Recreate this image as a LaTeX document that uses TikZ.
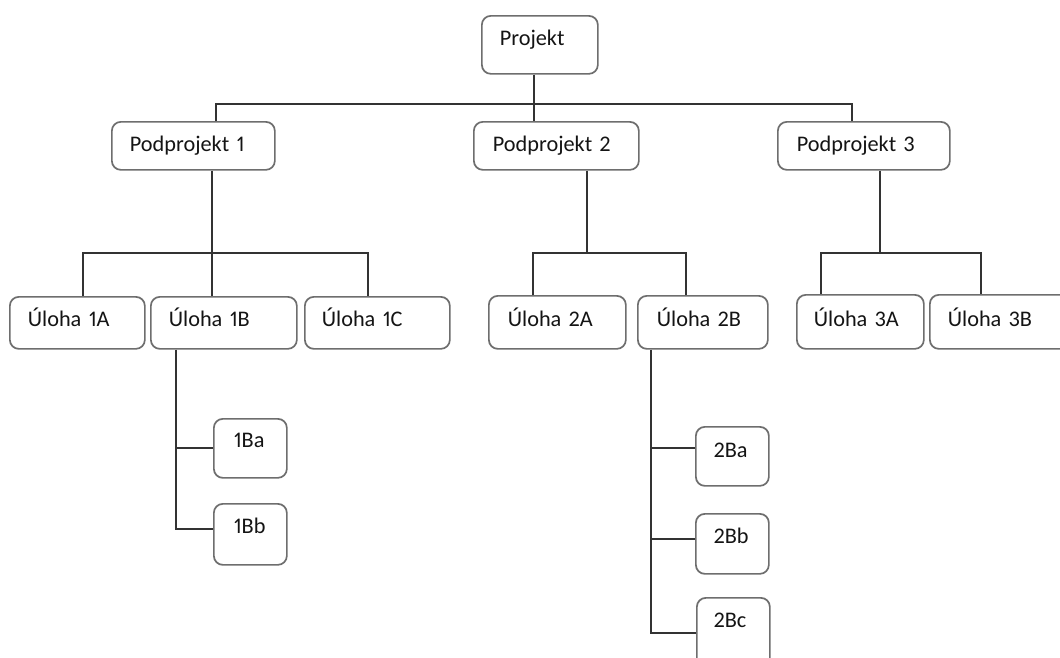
\documentclass[tikz,border=0pt]{standalone}
\usepackage{fontspec}
\setmainfont{Carlito}[Numbers=Proportional, WordSpace=0.45]
\definecolor{boxgray}{HTML}{6E6E6E}
\definecolor{linegray}{HTML}{333333}
\definecolor{txt}{HTML}{141414}
% box: name, left, top, right, bottom, baseline, text start, text
\newcommand\wbsnode[8]{%
  \pgfmathsetmacro\wpad{#7-#2}%
  \pgfmathsetmacro\wtw{#4-#2-2*(#7-#2)}%
  \pgfmathsetmacro\wth{#6-#3}%
  \pgfmathsetmacro\wtd{#5-#6}%
  \node[wbsbox, inner xsep=\wpad pt, text width=\wtw pt,
        text height=\wth pt, text depth=\wtd pt] (#1) at (#2,#3) {#8};}
\begin{document}
\begin{tikzpicture}[x=1pt, y=-1pt,
  wbsbox/.style={draw=boxgray, line width=1.7pt, rounded corners=9pt,
    fill=white, anchor=north west, inner ysep=0pt, align=left, text=txt,
    font=\fontsize{22.3}{24}\selectfont},
  conn/.style={draw=linegray, line width=1.4pt}]
\useasboundingbox (0,0) rectangle (1060,657);
\fill[white] (0,0) rectangle (1060,657);
\clip (0,0) rectangle (1060,657);

% level 0 and 1
\wbsnode{proj}{481}{15}{597}{73}{45}{499}{Projekt}
\wbsnode{pp1}{111}{121}{274}{169}{151}{129}{Podprojekt 1}
\wbsnode{pp2}{473}{121}{638}{169}{151}{492}{Podprojekt 2}
\wbsnode{pp3}{777}{121}{949}{169}{151}{796}{Podprojekt 3}

% level 2
\wbsnode{u1a}{9}{296}{144}{348}{326}{27}{Úloha 1A}
\wbsnode{u1b}{150}{296}{296}{348}{326}{168}{Úloha 1B}
\wbsnode{u1c}{304}{296}{449}{348}{326}{321}{Úloha 1C}
\wbsnode{u2a}{488}{295}{625}{348}{326}{507}{Úloha 2A}
\wbsnode{u2b}{637}{295}{767}{348}{326}{656}{Úloha 2B}
\wbsnode{u3a}{796}{294}{923}{348}{326}{813}{Úloha 3A}
\wbsnode{u3b}{929}{294}{1076}{348}{326}{947}{Úloha 3B}

% level 3
\wbsnode{u1ba}{213}{418}{286}{477}{447}{233}{1Ba}
\wbsnode{u1bb}{213}{503}{286}{564}{533}{233}{1Bb}
\wbsnode{u2ba}{695}{426}{768}{485}{457}{713}{2Ba}
\wbsnode{u2bb}{695}{513}{768}{573}{543}{713}{2Bb}
\wbsnode{u2bc}{696}{597}{769}{672}{627}{713}{2Bc}

% junctions of the connector lines
\coordinate (j0) at (534,104);
\coordinate (j0l) at (216,104);
\coordinate (j0r) at (852,104);
\coordinate (j1) at (212,253);
\coordinate (j1l) at (83,253);
\coordinate (j1r) at (368,253);
\coordinate (j2) at (587,253);
\coordinate (j2l) at (533,253);
\coordinate (j2r) at (686,253);
\coordinate (j3) at (880,253);
\coordinate (j3l) at (821,253);
\coordinate (j3r) at (981,253);
\coordinate (k1a) at (176,448);
\coordinate (k1b) at (176,529);
\coordinate (k2a) at (651,448);
\coordinate (k2b) at (651,539);
\coordinate (k2c) at (651,633);

% project to subprojects
\draw[conn] (proj.south -| j0) -- (pp2.north -| j0);
\draw[conn] (pp1.north -| j0l) -- (j0l) -- (j0r) -- (pp3.north -| j0r);

% subproject 1
\draw[conn] (pp1.south -| j1) -- (u1b.north -| j1);
\draw[conn] (u1a.north -| j1l) -- (j1l) -- (j1r) -- (u1c.north -| j1r);

% subproject 2
\draw[conn] (pp2.south -| j2) -- (j2);
\draw[conn] (u2a.north -| j2l) -- (j2l) -- (j2r) -- (u2b.north -| j2r);

% subproject 3
\draw[conn] (pp3.south -| j3) -- (j3);
\draw[conn] (u3a.north -| j3l) -- (j3l) -- (j3r) -- (u3b.north -| j3r);

% task 1B
\draw[conn] (u1b.south -| k1a) -- (k1b) -- (u1bb.west |- k1b);
\draw[conn] (k1a) -- (u1ba.west |- k1a);

% task 2B
\draw[conn] (u2b.south -| k2a) -- (k2c) -- (u2bc.west |- k2c);
\draw[conn] (k2a) -- (u2ba.west |- k2a);
\draw[conn] (k2b) -- (u2bb.west |- k2b);
\end{tikzpicture}
\end{document}
